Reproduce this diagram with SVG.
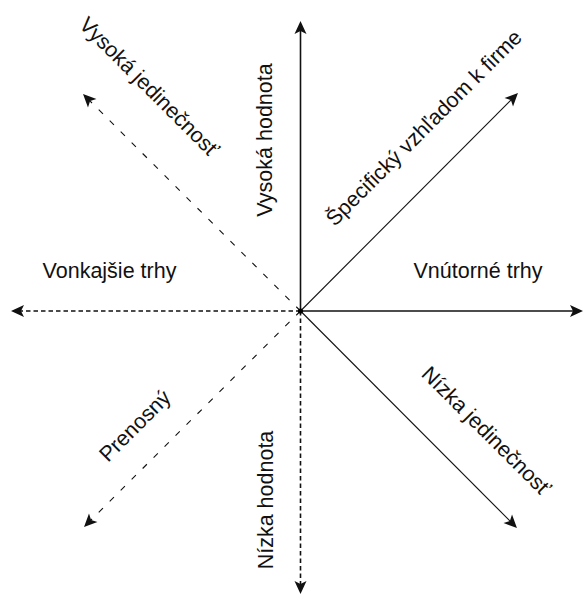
<svg xmlns="http://www.w3.org/2000/svg" width="584" height="596" viewBox="0 0 584 596">
<style>
.t{font-family:"Liberation Sans",Arial,sans-serif;font-size:21.5px;fill:#111;text-anchor:middle}
.s{stroke:#111;fill:none}
.d{stroke:#111;fill:none}
.hv{stroke-width:1.6}
.dg{stroke-width:1.1}
.dh{stroke-dasharray:4.5 3}
.dd{stroke-dasharray:6 9.5}
</style>
<defs>
<marker id="ah" viewBox="-4 -7 16 14" refX="0" refY="0" markerWidth="16" markerHeight="14" markerUnits="userSpaceOnUse" orient="auto">
<path d="M10,0 L-3,-6 L0,0 L-3,6 Z" fill="#111"/>
</marker>
</defs>
<rect width="584" height="596" fill="#fff"/>
<g id="connectors">
<line class="s hv" x1="300.5" y1="311" x2="300.5" y2="31" marker-end="url(#ah)"/>
<line class="s hv" x1="300.5" y1="311" x2="573" y2="311" marker-end="url(#ah)"/>
<line class="d hv dh" x1="300.5" y1="311" x2="300.5" y2="584" marker-end="url(#ah)"/>
<line class="d hv dh" x1="300.5" y1="311" x2="21" y2="311" marker-end="url(#ah)"/>
<line class="s dg" x1="300.5" y1="311" x2="510.9" y2="100.1" marker-end="url(#ah)"/>
<line class="s dg" x1="300.5" y1="311" x2="509.9" y2="520.9" marker-end="url(#ah)"/>
<line class="d dg dd" x1="300.5" y1="311" x2="90.1" y2="101.1" marker-end="url(#ah)"/>
<line class="d dg dd" x1="300.5" y1="311" x2="91.1" y2="519.9" marker-end="url(#ah)"/>
</g>
<g id="center"><circle cx="300.5" cy="311" r="2.6" fill="#000"/></g>
<g id="vonkajsie"><text class="t" x="109.5" y="278">Vonkajšie trhy</text></g>
<g id="vnutorne"><text class="t" x="478" y="278">Vnútorné trhy</text></g>
<g id="vysoka-hodnota"><text class="t" transform="translate(271.5,140) rotate(-90)">Vysoká hodnota</text></g>
<g id="nizka-hodnota"><text class="t" transform="translate(273,500) rotate(-90)">Nízka hodnota</text></g>
<g id="vysoka-jedinecnost"><text class="t" transform="translate(144,92) rotate(45)">Vysoká jedinečnosť</text></g>
<g id="specificky"><text class="t" transform="translate(429,133) rotate(-45)">Špecifický vzhľadom k firme</text></g>
<g id="prenosny"><text class="t" transform="translate(140,431) rotate(-45)">Prenosný</text></g>
<g id="nizka-jedinecnost"><text class="t" transform="translate(481,436) rotate(45)">Nízka jedinečnosť</text></g>
</svg>
